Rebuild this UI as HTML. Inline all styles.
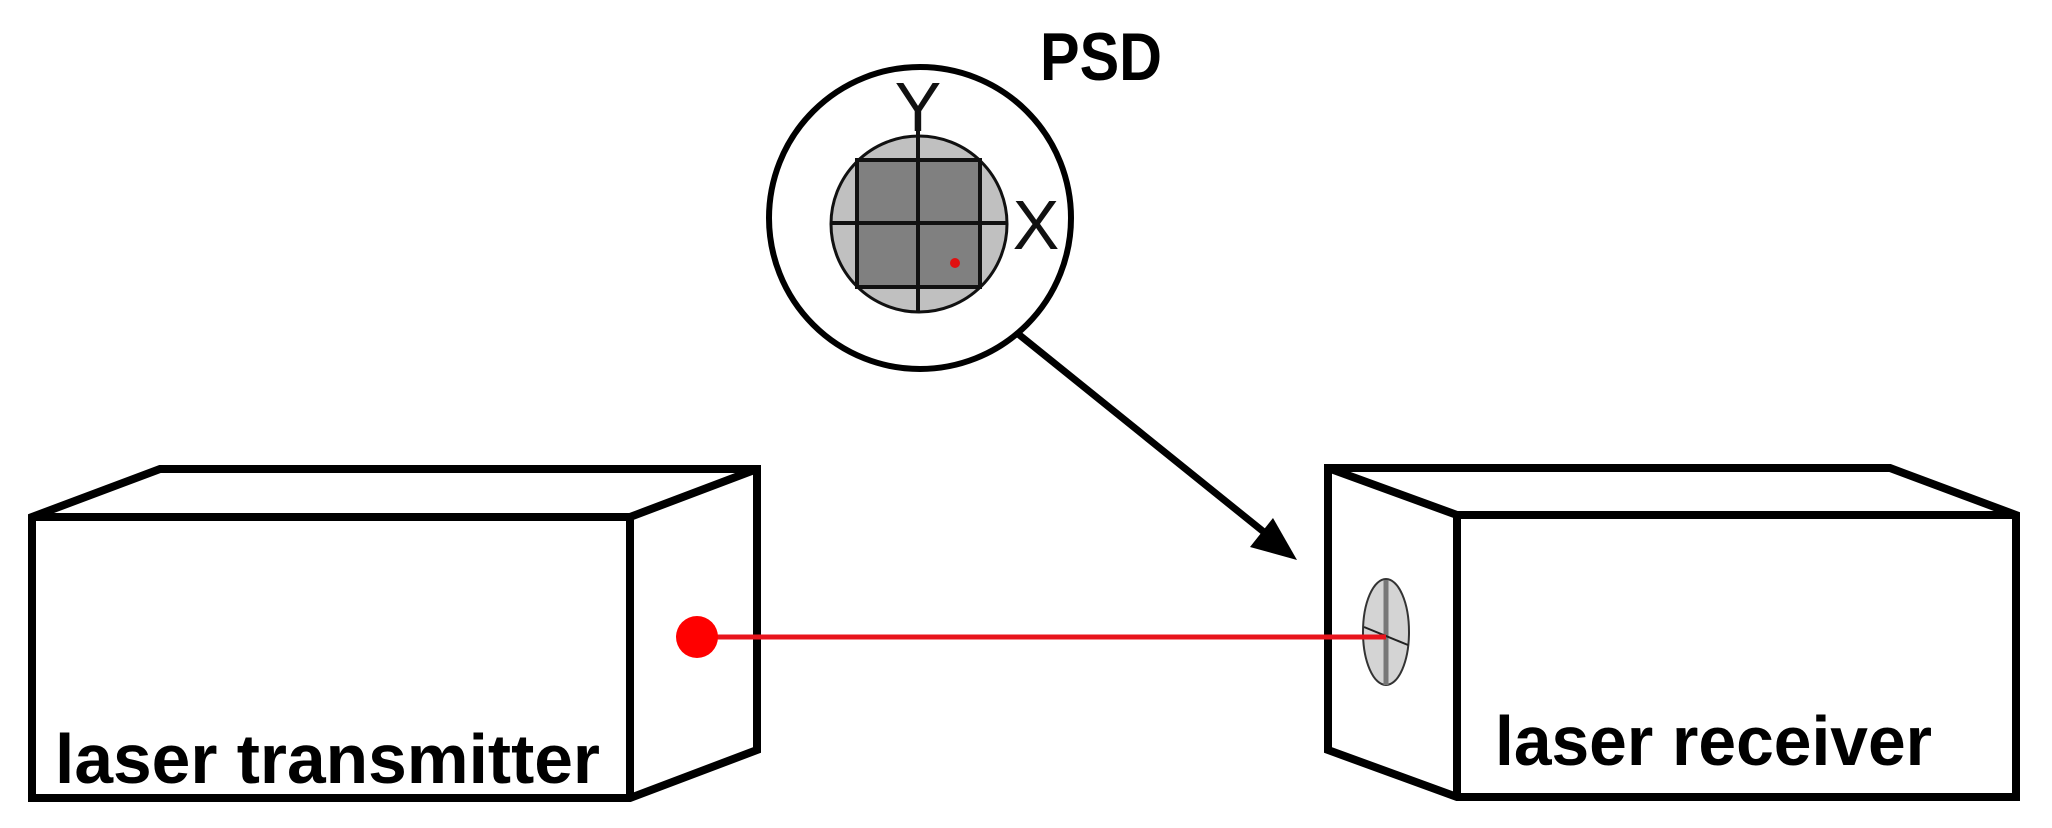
<!DOCTYPE html>
<html><head><meta charset="utf-8"><style>
html,body{margin:0;padding:0;background:#fff}
svg{display:block}
</style></head><body>
<svg width="2052" height="828" viewBox="0 0 2052 828" xmlns="http://www.w3.org/2000/svg">
<rect width="2052" height="828" fill="#fff"/>
<g fill="none" stroke="#000" stroke-width="8" stroke-linejoin="miter">
  <path d="M32 517 L160 469 L757 469 L757 750 L630 798 L32 798 Z" fill="#fff"/>
  <path d="M32 517 L630 517 L757 469 M630 517 L630 798"/>
  <path d="M1328 468 L1890 468 L2016 515 L2016 797 L1457 797 L1328 750 Z" fill="#fff"/>
  <path d="M1328 468 L1457 515 L2016 515 M1457 515 L1457 797"/>
</g>
<line x1="697" y1="637" x2="1386" y2="637" stroke="#e8141c" stroke-width="5"/>
<circle cx="697" cy="637" r="21" fill="#f00"/>
<ellipse cx="1386" cy="632" rx="23" ry="53" fill="#d4d4d4" stroke="#333" stroke-width="2"/>
<line x1="1386" y1="580" x2="1386" y2="685" stroke="#777" stroke-width="5"/>
<line x1="1364" y1="627" x2="1408" y2="645" stroke="#222" stroke-width="2"/>
<line x1="1340" y1="637" x2="1386" y2="637" stroke="#e8141c" stroke-width="5"/>
<circle cx="920" cy="218" r="151" fill="#fff" stroke="#000" stroke-width="6"/>
<circle cx="919" cy="224" r="88" fill="#c0c0c0" stroke="#111" stroke-width="3"/>
<rect x="857" y="160" width="123" height="127" fill="#808080" stroke="#111" stroke-width="4"/>
<line x1="918" y1="130" x2="918" y2="313" stroke="#111" stroke-width="4"/>
<line x1="831" y1="223" x2="1007" y2="223" stroke="#111" stroke-width="4"/>
<circle cx="955" cy="263" r="5" fill="#e01010"/>
<text x="918" y="131" font-family="Liberation Sans, sans-serif" font-size="70" text-anchor="middle" fill="#111">Y</text>
<text x="1036" y="249" font-family="Liberation Sans, sans-serif" font-size="70" text-anchor="middle" fill="#111">X</text>
<text x="1040" y="80" font-family="Liberation Sans, sans-serif" font-weight="bold" font-size="68" textLength="122" lengthAdjust="spacingAndGlyphs" fill="#000">PSD</text>
<line x1="1017" y1="333" x2="1275" y2="541" stroke="#000" stroke-width="7"/>
<polygon points="1297,560 1250,547 1273,518" fill="#000"/>
<text x="55" y="783" font-family="Liberation Sans, sans-serif" font-weight="bold" font-size="70" textLength="545" lengthAdjust="spacingAndGlyphs" fill="#000">laser transmitter</text>
<text x="1495" y="765" font-family="Liberation Sans, sans-serif" font-weight="bold" font-size="70" textLength="437" lengthAdjust="spacingAndGlyphs" fill="#000">laser receiver</text>
</svg>
</body></html>
